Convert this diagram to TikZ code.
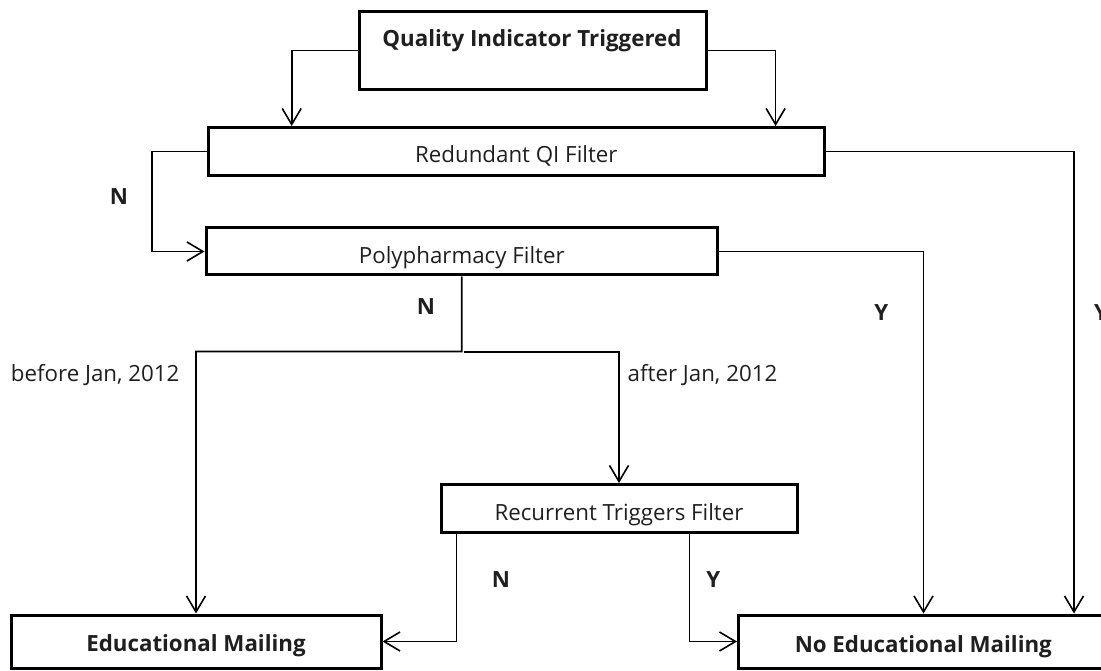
\documentclass[tikz,border=0pt]{standalone}
\usepackage{fontspec}
\setmainfont{Open Sans}
\usetikzlibrary{arrows.meta}
\begin{document}
\begin{tikzpicture}[x=1pt,y=-1pt,
  box/.style={draw, line width=3pt, inner sep=0pt, anchor=center},
  txt/.style={font=\fontsize{22.3}{26}\selectfont, text=black!88, inner sep=0pt, anchor=base},
  btxt/.style={font=\fontsize{22.3}{26}\selectfont\bfseries, text=black!88, inner sep=0pt, anchor=base},
  conn/.style={line width=1.6pt, -{Straight Barb[length=16pt,width=19pt,line width=1.6pt]}},
  plainline/.style={line width=1.6pt}]
\useasboundingbox (0,0) rectangle (1101,671);

% boxes
\node[box, minimum width=347pt, minimum height=78pt] (qit) at (533,50.5) {};
\node[box, minimum width=616pt, minimum height=48pt] (red) at (516.5,151.5) {};
\node[box, minimum width=511.5pt, minimum height=47pt] (poly) at (461.75,251.5) {};
\node[box, minimum width=356pt, minimum height=47.5pt] (rec) at (619,508.3) {};
\node[box, minimum width=370pt, minimum height=53pt] (ed) at (196,641.5) {};
\node[box, minimum width=369.5pt, minimum height=53pt] (noed) at (923.3,641.5) {};

% box texts
\node[btxt] (qitt) at (532,46.7) {Quality Indicator Triggered};
\node[txt] (redt) at (516.3,162.7) {Redundant QI Filter};
\node[txt] (polyt) at (461.8,263.3) {Polypharmacy Filter};
\node[txt] (rect) at (619,520) {Recurrent Triggers Filter};
\node[btxt] (edt) at (196,651.7) {Educational Mailing};
\node[btxt] (noedt) at (923.3,652) {No Educational Mailing};

% helper coordinates
\coordinate (c1) at (291.7,0);
\coordinate (c2) at (775.6,0);
\coordinate (nl) at (151.7,0);
\coordinate (c3) at (1074,0);
\coordinate (c4) at (923.5,0);
\coordinate (split) at (461.7,351.5);
\coordinate (splitr) at (464,352);
\coordinate (c5) at (456.3,0);
\coordinate (c6) at (689.5,0);

% connectors
\draw[conn] (qit.west) -| (red.north -| c1);
\draw[conn] (qit.east) -| (red.north -| c2);
\draw[conn] (red.west) -| (nl |- poly.west) -- (poly.west);
\draw[conn] (red.east) -| (noed.north -| c3);
\draw[conn] (poly.east) -| (noed.north -| c4);
\draw[conn] (poly.south) -- (split) -| (ed.north);
\draw[conn] (splitr) -| (rec.north);
\draw[conn] (rec.south -| c5) |- (ed.east);
\draw[conn] (rec.south -| c6) |- (noed.west);

% labels
\node[btxt] (n1) at (119,205) {N};
\node[btxt] (n2) at (426,315) {N};
\node[btxt] (y1) at (881.3,320) {Y};
\node[btxt] (y2) at (1101,320) {Y};
\node[txt] (before) at (95.2,381) {before Jan, 2012};
\node[txt] (after) at (702.5,381.7) {after Jan, 2012};
\node[btxt] (n3) at (501,587.7) {N};
\node[btxt] (y3) at (713.3,587.7) {Y};
\end{tikzpicture}
\end{document}
